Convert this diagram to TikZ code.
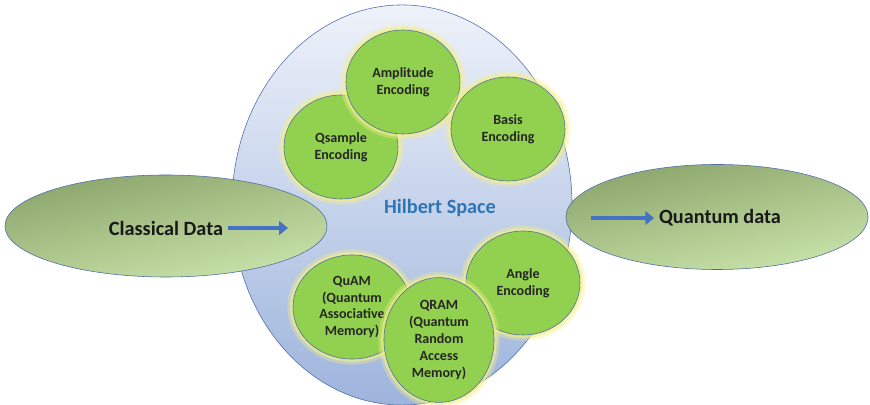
\documentclass[tikz,border=0pt]{standalone}
\usepackage{fontspec}
\setmainfont{Carlito}
\usepackage{tikz}
\usetikzlibrary{
  positioning,
  arrows.meta,
  shapes.geometric
}
\definecolor{hilbertblue}{HTML}{2E75B6}
\definecolor{rimblue}{HTML}{4F6AA8}
\definecolor{spacetop}{HTML}{EEF2FA}
\definecolor{spacebottom}{HTML}{9DB4DC}
\definecolor{encgreen}{HTML}{92D050}
\definecolor{arrowblue}{HTML}{4472C4}
\definecolor{olivedark}{HTML}{8CA56C}
\definecolor{olivelight}{HTML}{C9E4AA}
\definecolor{glow}{HTML}{F4F08A}

\begin{document}
\begin{tikzpicture}[
  x=0.025cm,
  y=-0.025cm,
  font=\bfseries,
  space/.style={
    ellipse,
    draw=rimblue,
    thin,
    top color=spacetop,
    bottom color=spacebottom,
    minimum width=8.5cm,
    minimum height=10cm
  },
  data/.style={
    ellipse,
    draw=rimblue,
    thin,
    top color=olivedark,
    bottom color=olivelight,
    shading angle=12
  },
  encoding/.style={
    ellipse,
    draw=rimblue,
    thin,
    fill=encgreen,
    minimum width=2.85cm,
    minimum height=2.6cm,
    align=center,
    font=\normalsize\bfseries,
    text=black!85,
    preaction={draw=glow, line width=8pt, draw opacity=0.35},
    preaction={draw=glow, line width=4pt, draw opacity=0.6}
  },
  label/.style={
    font=\Large\bfseries,
    text=black!90
  },
  arrow/.style={
    -{Triangle[length=0.22cm, width=0.34cm]},
    line width=0.1cm,
    draw=arrowblue
  }
]
\useasboundingbox (0,0) rectangle (870,405);

% Hilbert space
\node[space] (hilbert) at (402,205) {};
\node[data, minimum width=8.05cm, minimum height=2.55cm] (classical) at (166,226) {};
\node[data, minimum width=7.55cm, minimum height=2.625cm] (quantum) at (717,217) {};
\node[font=\Large\bfseries, text=hilbertblue] (hlabel) at (440,208) {Hilbert Space};

% Encodings
\node[encoding] (qsample) at (341,147) {Qsample\\Encoding};
\node[encoding] (amplitude) at (403,82) {Amplitude\\Encoding};
\node[encoding] (basis) at (508,129) {Basis\\Encoding};
\node[encoding] (angle) at (523,283) {Angle\\Encoding};
\node[encoding, minimum width=2.95cm] (quam) at (352,307) {QuAM\\(Quantum\\Associative\\Memory)};
\node[encoding, minimum width=2.75cm] (qram) at (439,340) {QRAM\\(Quantum\\Random\\Access\\Memory)};

% Data labels
\node[label] (cdata) at (166,228) {Classical Data};
\coordinate (cdend) at (288,228);
\node[label] (qdata) at (720,218) {Quantum data};
\coordinate (qdstart) at (591,218);

% Transitions
\draw[arrow] (cdata) -- (cdend);
\draw[arrow] (qdstart) -- (qdata);

\end{tikzpicture}
\end{document}
